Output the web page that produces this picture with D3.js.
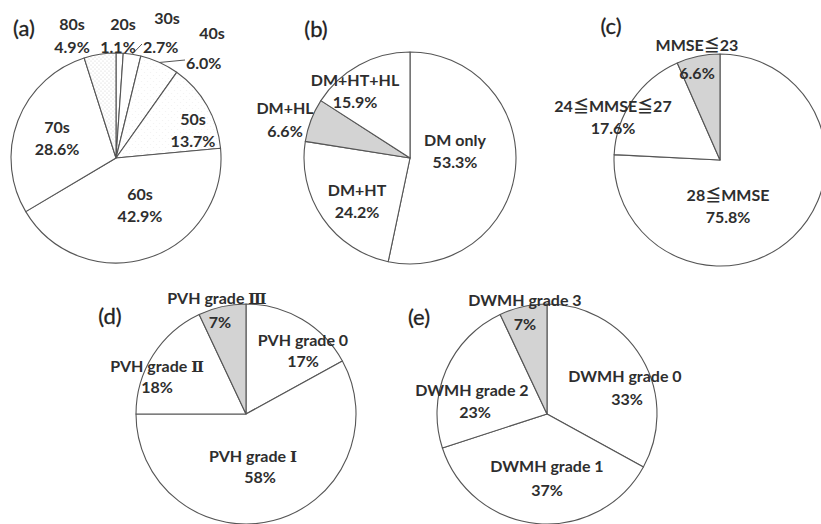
<!DOCTYPE html>
<html>
<head>
<meta charset="utf-8">
<script src="https://cdn.jsdelivr.net/npm/d3@7"></script>
<style>
  html, body { margin: 0; padding: 0; background: #fff; }
  svg { display: block; }
  .lbl { font-family: Lato, "Noto Sans CJK JP", "DejaVu Sans", sans-serif; font-weight: 700; font-size: 16px; fill: #2e2e2e; }
  .roman { font-family: "DejaVu Serif", serif; font-weight: 700; font-size: 15px; }
  .panel { font-family: Lato, "Noto Sans", sans-serif; font-size: 22px; fill: #222; stroke: #222; stroke-width: 0.3px; }
</style>
</head>
<body>
<svg id="chart" width="821" height="524"></svg>
<script>
// (a) age distribution
const ageGroups = ["20s", "30s", "40s", "50s", "60s", "70s", "80s"];
const agePct = [1.1, 2.7, 6.0, 13.7, 42.9, 28.6, 4.9];
const ageFill = ["white", "white", "dotsFaint", "dotsFaint", "white", "white", "dots"];

// (b) comorbidity
const comorbidity = ["DM only", "DM+HT", "DM+HL", "DM+HT+HL"];
const comorbidityPct = [53.3, 24.2, 6.6, 15.9];
const comorbidityFill = ["white", "white", "gray", "white"];

// (c) MMSE
const mmseGroups = ["28≦MMSE", "24≦MMSE≦27", "MMSE≦23"];
const mmsePct = [75.8, 17.6, 6.6];
const mmseFill = ["white", "white", "gray"];

// (d) PVH grade
const pvhGrades = ["PVH grade 0", "PVH grade Ⅰ", "PVH grade Ⅱ", "PVH grade Ⅲ"];
const pvhPct = [17, 58, 18, 7];
const pvhFill = ["white", "white", "white", "gray"];

// (e) DWMH grade
const dwmhGrades = ["DWMH grade 0", "DWMH grade 1", "DWMH grade 2", "DWMH grade 3"];
const dwmhPct = [33, 37, 23, 7];
const dwmhFill = ["white", "white", "white", "gray"];

const svg = d3.select("#chart");

// stipple fill patterns
const defs = svg.append("defs");
function dotPattern(id, color, size, r) {
  const p = defs.append("pattern").attr("id", id)
    .attr("patternUnits", "userSpaceOnUse").attr("width", size).attr("height", size);
  p.append("rect").attr("width", size).attr("height", size).attr("fill", "#fff");
  p.append("circle").attr("cx", size / 4).attr("cy", size / 4).attr("r", r).attr("fill", color);
  p.append("circle").attr("cx", size * 3 / 4).attr("cy", size * 3 / 4).attr("r", r).attr("fill", color);
}
dotPattern("dots", "#d0d0d0", 4, 0.6);
dotPattern("dotsFaint", "#f1f1f1", 6, 0.6);

const fillColor = {
  white: "#ffffff",
  gray: "#d3d3d3",
  dots: "url(#dots)",
  dotsFaint: "url(#dotsFaint)"
};

function fmt(v, decimals) {
  return v.toFixed(decimals) + "%";
}

// writes a label, setting Roman numerals in a serif face
function setLabel(sel, str) {
  const parts = str.split(/([Ⅰ-Ⅻ]+)/);
  parts.forEach(s => {
    if (!s) return;
    const t = sel.append("tspan").text(s);
    if (/[Ⅰ-Ⅻ]/.test(s)) t.attr("class", "roman");
  });
}

// label layout: offsets of the text centre from the pie centre, per slice
const panels = [
  {
    tag: "(a)", names: ageGroups, values: agePct, fills: ageFill, decimals: 1,
    cx: 116, cy: 158, r: 105, tagPos: [24, 36],
    offsets: [[7, -133], [51, -139], [96, -124], [77, -38], [24, 37], [-59, -30], [-44, -133]],
    valueOffsets: [[2, -110], [50, -110], [95, -94], [77, -16], [24, 59], [-59, -8], [-44, -110]],
    leaders: { 1: [26, -114], 2: [69, -98] }
  },
  {
    tag: "(b)", names: comorbidity, values: comorbidityPct, fills: comorbidityFill, decimals: 1,
    cx: 410, cy: 158, r: 106, tagPos: [316, 37],
    offsets: [[45, -17], [-53, 33], [-125, -49], [-55, -77]],
    valueOffsets: [[45, 5], [-53, 55], [-125, -26], [-55, -55]],
    leaders: {}
  },
  {
    tag: "(c)", names: mmseGroups, values: mmsePct, fills: mmseFill, decimals: 1,
    cx: 720, cy: 160, r: 106, tagPos: [611, 34],
    offsets: [[8, 36], [-107, -53], [-23, -114]],
    valueOffsets: [[8, 58], [-107, -31], [-23, -86]],
    leaders: {}
  },
  {
    tag: "(d)", names: pvhGrades, values: pvhPct, fills: pvhFill, decimals: 0,
    cx: 246, cy: 414, r: 110, tagPos: [110, 324],
    offsets: [[57, -73], [7, 43], [-89, -47], [-29, -115]],
    valueOffsets: [[57, -52], [14, 64], [-89, -26], [-26, -91]],
    leaders: {}
  },
  {
    tag: "(e)", names: dwmhGrades, values: dwmhPct, fills: dwmhFill, decimals: 0,
    cx: 547, cy: 414, r: 110, tagPos: [419, 325],
    offsets: [[78, -37], [0, 53], [-75, -23], [-22, -113]],
    valueOffsets: [[80, -14], [0, 77], [-72, -1], [-22, -89]],
    leaders: {}
  }
];

const pie = d3.pie().sort(null).value(d => d);

panels.forEach(p => {
  const g = svg.append("g").attr("transform", `translate(${p.cx},${p.cy})`);
  const arcs = pie(p.values);
  const arc = d3.arc().innerRadius(0).outerRadius(p.r);

  g.selectAll("path.slice").data(arcs).join("path")
    .attr("class", "slice")
    .attr("d", arc)
    .attr("fill", (d, i) => fillColor[p.fills[i]])
    .attr("stroke", "#555")
    .attr("stroke-width", 1.1)
    .attr("stroke-linejoin", "round");

  // leader lines for thin slices
  Object.keys(p.leaders).forEach(k => {
    const d = arcs[+k];
    const a = (d.startAngle + d.endAngle) / 2;
    const x0 = Math.sin(a) * p.r, y0 = -Math.cos(a) * p.r;
    const [x1, y1] = p.leaders[k];
    g.append("line")
      .attr("x1", x0).attr("y1", y0).attr("x2", x1).attr("y2", y1)
      .attr("stroke", "#555").attr("stroke-width", 1);
  });

  arcs.forEach((d, i) => {
    const name = g.append("text").attr("class", "lbl")
      .attr("text-anchor", "middle")
      .attr("x", p.offsets[i][0]).attr("y", p.offsets[i][1] + 5);
    setLabel(name, p.names[i]);
    g.append("text").attr("class", "lbl")
      .attr("text-anchor", p.leaders[i] ? "start" : "middle")
      .attr("x", p.leaders[i] ? p.leaders[i][0] + 1 : p.valueOffsets[i][0])
      .attr("y", p.valueOffsets[i][1] + 5)
      .text(fmt(p.values[i], p.decimals));
  });

  svg.append("text").attr("class", "panel")
    .attr("text-anchor", "middle")
    .attr("x", p.tagPos[0]).attr("y", p.tagPos[1])
    .text(p.tag);
});
</script>
</body>
</html>
